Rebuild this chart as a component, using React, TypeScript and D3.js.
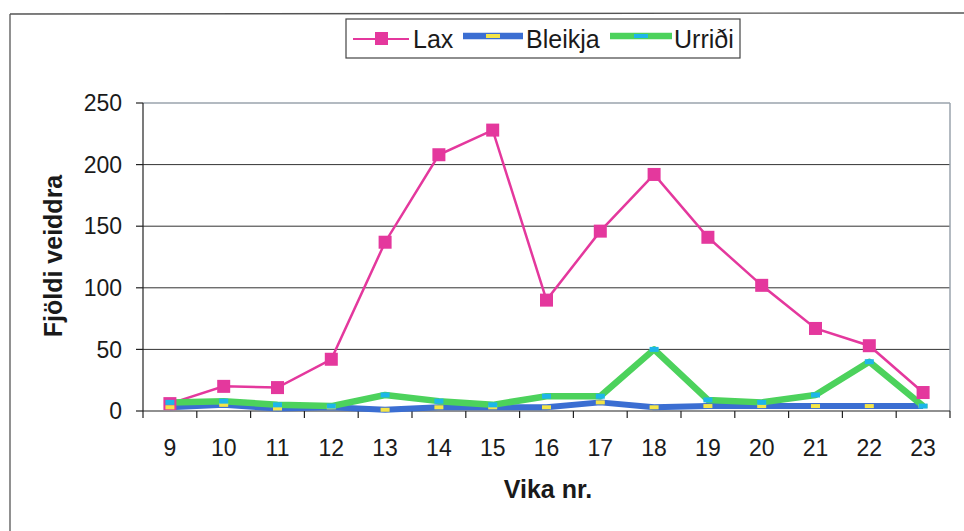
import React from "react";
import * as d3 from "d3";

const weeks = ["9", "10", "11", "12", "13", "14", "15", "16", "17", "18", "19", "20", "21", "22", "23"];
const lax = [6, 20, 19, 42, 137, 208, 228, 90, 146, 192, 141, 102, 67, 53, 15];
const bleikja = [3, 5, 2, 3, 1, 3, 3, 3, 7, 3, 4, 4, 4, 4, 4];
const urridi = [7, 8, 5, 4, 13, 8, 5, 12, 12, 50, 9, 7, 13, 40, 4];
const yTicks = [0, 50, 100, 150, 200, 250];

const W = 964;
const H = 531;
const M = { left: 143, right: 950, top: 103, bottom: 411 };

const PINK = "#E4389D";
const BLUE = "#3B6ED2";
const GREEN = "#4CD25C";
const YELLOW = "#F4E548";
const CYAN = "#1DB6E9";

export default function App() {
  const x = d3.scaleBand<string>().domain(weeks).range([M.left, M.right]);
  const y = d3.scaleLinear().domain([0, 250]).range([M.bottom, M.top]);
  const cx = (w: string) => (x(w) as number) + x.bandwidth() / 2;
  const line = d3
    .line<number>()
    .x((_, i) => cx(weeks[i]))
    .y((d) => y(d));

  const font = "Arial, 'Liberation Sans', Helvetica, sans-serif";

  return (
    <svg
      width={W}
      height={H}
      style={{ position: "absolute", left: 0, top: 0, background: "#fff" }}
      fontFamily={font}
    >
      {/* page frame */}
      <line x1={10} y1={14} x2={W} y2={13} stroke="#555" strokeWidth={1.3} />
      <line x1={10} y1={14} x2={10} y2={H} stroke="#555" strokeWidth={1.3} />

      {/* gridlines */}
      {yTicks.slice(1, -1).map((t) => (
        <line key={t} x1={M.left} x2={M.right} y1={y(t)} y2={y(t)} stroke="#333" strokeWidth={1} />
      ))}
      {/* plot border top/right */}
      <line x1={M.left} x2={M.right} y1={y(250)} y2={y(250)} stroke="#9aa3ad" strokeWidth={1.5} />
      <line x1={M.right} x2={M.right} y1={y(250)} y2={M.bottom} stroke="#9aa3ad" strokeWidth={1.5} />

      {/* axes */}
      <line x1={M.left} x2={M.left} y1={y(250)} y2={M.bottom} stroke="#222" strokeWidth={1.2} />
      <line x1={M.left} x2={M.right} y1={M.bottom} y2={M.bottom} stroke="#222" strokeWidth={1.2} />
      {yTicks.map((t) => (
        <g key={t}>
          <line x1={M.left - 7} x2={M.left} y1={y(t)} y2={y(t)} stroke="#222" strokeWidth={1.2} />
          <text x={M.left - 21} y={y(t)} dy="0.36em" textAnchor="end" fontSize={23} fill="#1a1a1a">
            {t}
          </text>
        </g>
      ))}
      {weeks.map((w) => (
        <line
          key={"t" + w}
          x1={x(w) as number}
          x2={x(w) as number}
          y1={M.bottom}
          y2={M.bottom + 7}
          stroke="#222"
          strokeWidth={1.2}
        />
      ))}
      <line x1={M.right} x2={M.right} y1={M.bottom} y2={M.bottom + 7} stroke="#222" strokeWidth={1.2} />
      {weeks.map((w) => (
        <text key={"l" + w} x={cx(w)} y={456} textAnchor="middle" fontSize={23} fill="#1a1a1a">
          {w}
        </text>
      ))}

      {/* axis titles */}
      <text x={548} y={498} textAnchor="middle" fontSize={25} fontWeight="bold" fill="#1a1a1a">
        Vika nr.
      </text>
      <text
        transform={`translate(62,${256}) rotate(-90)`}
        textAnchor="middle"
        fontSize={25}
        fontWeight="bold"
        fill="#1a1a1a"
      >
        Fjöldi veiddra
      </text>

      {/* series lines */}
      <path d={line(lax) as string} fill="none" stroke={PINK} strokeWidth={2.5} />
      <path d={line(bleikja) as string} fill="none" stroke={BLUE} strokeWidth={6} strokeLinejoin="round" />
      <path d={line(urridi) as string} fill="none" stroke={GREEN} strokeWidth={6.5} strokeLinejoin="round" />

      {/* markers */}
      {lax.map((v, i) => (
        <rect key={"m1" + i} x={cx(weeks[i]) - 6.5} y={y(v) - 6.5} width={13} height={13} fill={PINK} />
      ))}
      {bleikja.map((v, i) => (
        <rect key={"m2" + i} x={cx(weeks[i]) - 4.5} y={y(v) - 2} width={9} height={4} fill={YELLOW} />
      ))}
      {urridi.map((v, i) => (
        <rect key={"m3" + i} x={cx(weeks[i]) - 4.5} y={y(v) - 2.5} width={9} height={5} fill={CYAN} />
      ))}

      {/* legend */}
      <g>
        <rect x={346} y={19} width={394} height={39} fill="#fff" stroke="#444" strokeWidth={1.2} />
        <line x1={353} x2={409} y1={39} y2={39} stroke={PINK} strokeWidth={2.2} />
        <rect x={375} y={32} width={13} height={13} fill={PINK} />
        <text x={413} y={48} fontSize={25} fill="#1a1a1a">Lax</text>
        <line x1={463} x2={523} y1={36} y2={36} stroke={BLUE} strokeWidth={6.5} />
        <rect x={486} y={34} width={14} height={4} fill={YELLOW} />
        <text x={526} y={48} fontSize={25} fill="#1a1a1a">Bleikja</text>
        <line x1={610} x2={672} y1={36} y2={36} stroke={GREEN} strokeWidth={6.5} />
        <rect x={634} y={34} width={14} height={4} fill={CYAN} />
        <text x={674} y={48} fontSize={25} fill="#1a1a1a">Urriði</text>
      </g>
    </svg>
  );
}
